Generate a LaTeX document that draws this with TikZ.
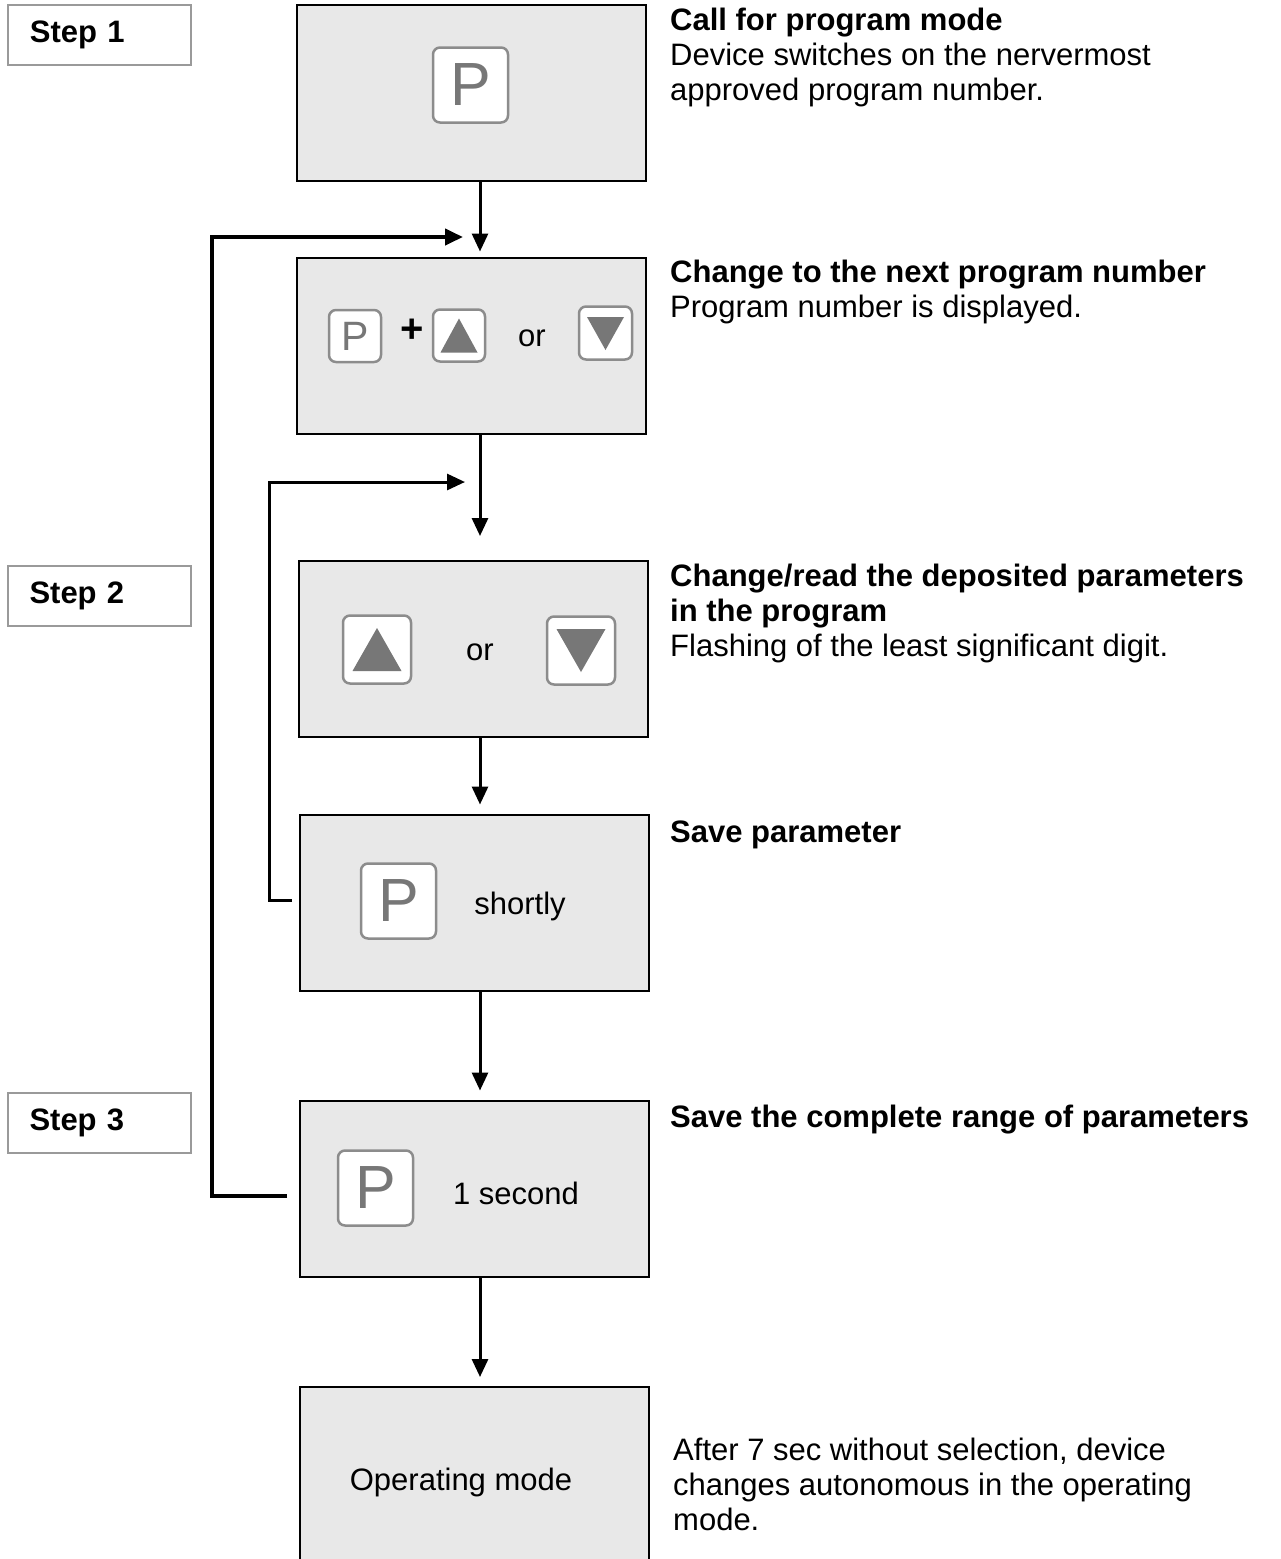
\documentclass[tikz,border=0pt]{standalone}
\usepackage{fontspec}
\setmainfont{Liberation Sans}
\usetikzlibrary{positioning,calc,arrows.meta}
\definecolor{panel}{HTML}{E8E8E8}
\definecolor{keyline}{HTML}{8C8C8C}
\definecolor{keyglyph}{HTML}{777777}
\definecolor{stepline}{HTML}{9A9A9A}
\newcommand{\txt}{\fontsize{31}{35}\selectfont}
\newcommand{\bigP}{\fontsize{61}{61}\selectfont}
\newcommand{\smallP}{\fontsize{41}{41}\selectfont}

\begin{document}
\begin{tikzpicture}[x=1pt,y=-1pt,>={Triangle[length=18pt,width=16pt]},font=\txt,
	box/.style={draw,line width=2pt,fill=panel,minimum width=349pt,minimum height=176pt,inner sep=0pt},
	stepbox/.style={draw=stepline,line width=2pt,minimum height=60pt,text width=139pt,inner xsep=22pt,align=left,font=\txt\bfseries},
	key/.style={draw=keyline,line width=2.5pt,fill=white,rounded corners=7pt,inner sep=0pt,minimum size=#1,text=keyglyph},
	flow/.style={->,line width=3pt},
	note/.style={anchor=north west,align=left,inner sep=0pt}]
	\useasboundingbox (0,0) rectangle (1281,1559);
	% steps on the left
	\node[stepbox] (S1) at (99.5,35) {Step 1};
	\node[stepbox] (S2) at (99,595.5) {Step 2};
	\node[stepbox] (S3) at (99,1123) {Step 3};
	% panels
	\node[box] (A) at (471.5,93) {};
	\node[box] (B) at (471.5,345.5) {};
	\node[box] (C) at (473.5,649) {};
	\node[box] (D) at (474.5,902.5) {};
	\node[box] (E) at (474.5,1188.5) {};
	\node[box] (F) at (474.5,1475) {};
	% keys
	\node[key=75pt,font=\bigP] (pA) at (470.5,85) {P};
	\node[key=52pt,font=\smallP] (pB) at (355,336) {P};
	\node[font=\fontsize{40}{40}\selectfont\bfseries] (plus) at (412,331) {+};
	\node[key=52pt] (uB) at (459,335.5) {};
	\node (orB) at (532,338) {or};
	\node[key=53pt] (dB) at (605.5,333) {};
	\node[key=68pt] (uC) at (377,649.5) {};
	\node (orC) at (480,652) {or};
	\node[key=68pt] (dC) at (581,650.5) {};
	\node[key=75pt,font=\bigP] (pD) at (398.5,901) {P};
	\node (short) at (520,906) {shortly};
	\node[key=75pt,font=\bigP] (pE) at (375.5,1188) {P};
	\node (sec) at (516,1193) {1 second};
	\node (op) at (461,1482) {Operating mode};
	\fill[keyglyph] ($(uB)+(-18.5,17)$) -- ++(37,0) -- ++(-18.5,-34) -- cycle;
	\fill[keyglyph] ($(dB)+(-18.5,-16)$) -- ++(37,0) -- ++(-18.5,33) -- cycle;
	\fill[keyglyph] ($(uC)+(-24.5,21.5)$) -- ++(49,0) -- ++(-24.5,-43) -- cycle;
	\fill[keyglyph] ($(dC)+(-24.5,-21.5)$) -- ++(49,0) -- ++(-24.5,43) -- cycle;
	% notes on the right
	\node[note] (nA) at (670,8) {\textbf{Call for program mode}\\Device switches on the nervermost\\approved program number.};
	\node[note] (nB) at (670,260) {\textbf{Change to the next program number}\\Program number is displayed.};
	\node[note] (nC) at (670,564) {\textbf{Change/read the deposited parameters}\\\textbf{in the program}\\Flashing of the least significant digit.};
	\node[note] (nD) at (670,821) {\textbf{Save parameter}};
	\node[note] (nE) at (670,1105) {\textbf{Save the complete range of parameters}};
	\node[note] (nF) at (673,1438) {After 7 sec without selection, device\\changes autonomous in the operating\\mode.};
	% flow down
	\coordinate (axis) at (480,0);
	\draw[flow,shorten >=5pt] (A.south -| axis) -- (B.north -| axis);
	\draw[flow,shorten >=24pt] (B.south -| axis) -- (C.north -| axis);
	\draw[flow,shorten >=9pt] (C.south -| axis) -- (D.north -| axis);
	\draw[flow,shorten >=9pt] (D.south -| axis) -- (E.north -| axis);
	\draw[flow,shorten >=9pt] (E.south -| axis) -- (F.north -| axis);
	% way back
	\coordinate (in1) at (463,237);
	\coordinate (in2) at (465,482);
	\draw[flow,line width=4pt,shorten <=12pt] ([yshift=-7.5pt]E.west) -- ++(-87,0) |- (in1);
	\draw[flow,shorten <=7pt] ([yshift=2.5pt]D.west) -- ++(-30,0) |- (in2);
\end{tikzpicture}
\end{document}
